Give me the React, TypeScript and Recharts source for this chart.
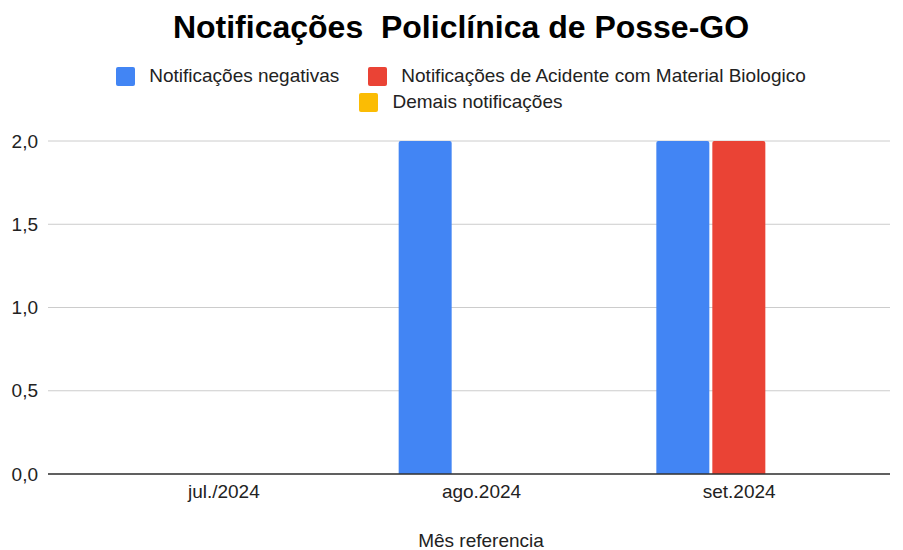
import React from 'react';
import { BarChart, Bar, XAxis, YAxis, CartesianGrid } from 'recharts';

const months = ['jul./2024', 'ago.2024', 'set.2024'];
const negativas = [0, 2, 2];
const acidentes = [0, 0, 2];
const demais = [0, 0, 0];
const yTicks = [0, 0.5, 1, 1.5, 2];

const seriesNames = [
  'Notificações negativas',
  'Notificações de Acidente com Material Biologico',
  'Demais notificações',
];
const seriesColors = ['#4285F4', '#EA4335', '#FBBC04'];

const data = months.map((m, i) => ({
  month: m,
  negativas: negativas[i],
  acidentes: acidentes[i],
  demais: demais[i],
}));

const FONT = '"Liberation Sans", Arial, sans-serif';

const LegendItem: React.FC<{ idx: number; ml?: number }> = ({ idx, ml = 0 }) => (
  <div style={{ display: 'flex', alignItems: 'center', marginLeft: ml }}>
    <div style={{ width: 19, height: 19, borderRadius: 2, background: seriesColors[idx], marginRight: 14 }} />
    <span style={{ fontSize: 19, color: '#222' }}>{seriesNames[idx]}</span>
  </div>
);

export default function App() {
  return (
    <div style={{ position: 'absolute', left: 0, top: 0, width: 903, height: 550, background: '#fff', fontFamily: FONT }}>
      <div style={{ position: 'absolute', top: 9, left: 0, width: 922, textAlign: 'center', fontSize: 32, fontWeight: 'bold', color: '#000', whiteSpace: 'pre' }}>
        {'Notificações  Policlínica de Posse-GO'}
      </div>
      <div style={{ position: 'absolute', top: 65, left: 0, width: 922, display: 'flex', justifyContent: 'center' }}>
        <LegendItem idx={0} />
        <LegendItem idx={1} ml={29} />
      </div>
      <div style={{ position: 'absolute', top: 91, left: 0, width: 922, display: 'flex', justifyContent: 'center' }}>
        <LegendItem idx={2} />
      </div>
      <div style={{ position: 'absolute', left: 0, top: 0 }}>
        <BarChart
          width={903}
          height={550}
          data={data}
          margin={{ top: 141, right: 13, left: 0, bottom: 0 }}
          barSize={53}
          barGap={3}
        >
          <CartesianGrid vertical={false} stroke="#cccccc" />
          <YAxis
            width={48}
            domain={[0, 2]}
            ticks={yTicks}
            tickFormatter={(v: number) => v.toFixed(1).replace('.', ',')}
            axisLine={false}
            tickLine={false}
            tickSize={0}
            tickMargin={10}
            tick={{ fill: '#222', fontSize: 19, fontFamily: FONT }}
          />
          <XAxis
            dataKey="month"
            height={76}
            padding={{ left: 47, right: 22 }}
            axisLine={{ stroke: '#333', strokeWidth: 1.5 }}
            tickLine={false}
            tickSize={0}
            tickMargin={11}
            tick={{ fill: '#222', fontSize: 19, fontFamily: FONT }}
            label={{ value: 'Mês referencia', position: 'insideBottom', offset: 3, dx: 12, style: { fill: '#222', fontSize: 19, fontFamily: FONT } }}
          />
          <Bar dataKey="negativas" name={seriesNames[0]} fill={seriesColors[0]} radius={[2, 2, 0, 0]} isAnimationActive={false} />
          <Bar dataKey="acidentes" name={seriesNames[1]} fill={seriesColors[1]} radius={[2, 2, 0, 0]} isAnimationActive={false} />
          <Bar dataKey="demais" name={seriesNames[2]} fill={seriesColors[2]} radius={[2, 2, 0, 0]} isAnimationActive={false} />
        </BarChart>
      </div>
    </div>
  );
}
